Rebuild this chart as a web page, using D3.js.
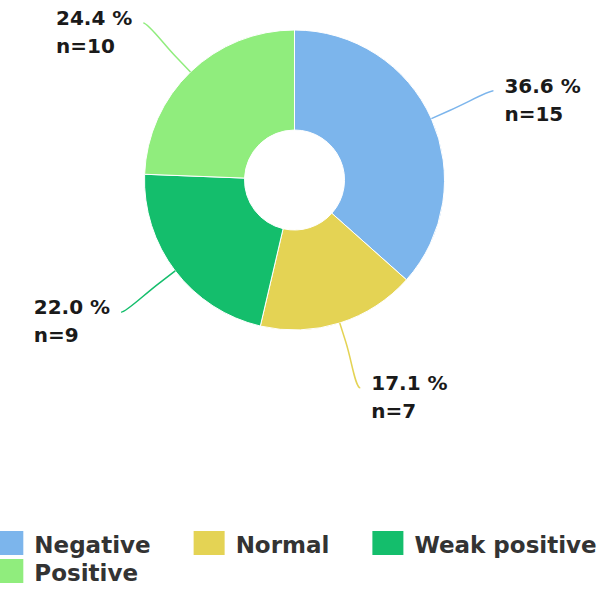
<!DOCTYPE html>
<html lang="en">
<head>
    <meta charset="UTF-8">
    <title>Donut</title>
    <script src="https://d3js.org/d3.v7.min.js"></script>
    <style>
        html, body { margin: 0; padding: 0; background: #fff; overflow: hidden; }
        text { font-family: "DejaVu Sans", sans-serif; font-weight: bold; }
    </style>
</head>
<body>
    <div id="chart"></div>
    <script>
        // data
        var categories = ["Negative", "Normal", "Weak positive", "Positive"];
        var counts = [15, 7, 9, 10];
        var colors = ["#7cb5ec", "#e4d354", "#14be6c", "#90ed7d"];

        var width = 616, height = 590;
        var cx = 294.5, cy = 180;
        var outerR = 150, innerR = 50;
        var total = d3.sum(counts);

        var svg = d3.select("#chart")
            .append("svg")
            .attr("width", width)
            .attr("height", height);

        var pie = d3.pie().sort(null).value(function (d) { return d; });
        var arcs = pie(counts);

        var arc = d3.arc().innerRadius(innerR).outerRadius(outerR);

        var g = svg.append("g").attr("transform", "translate(" + cx + "," + cy + ")");

        g.selectAll("path.slice")
            .data(arcs)
            .enter()
            .append("path")
            .attr("class", "slice")
            .attr("d", arc)
            .attr("fill", function (d, i) { return colors[i]; })
            .attr("stroke", "#fff")
            .attr("stroke-width", 1);

        // point at radius r along the slice's middle angle
        function polar(d, r) {
            var a = (d.startAngle + d.endAngle) / 2;
            return [r * Math.sin(a), -r * Math.cos(a)];
        }

        var fmt = d3.format(".1f");

        arcs.forEach(function (d, i) {
            var touch = polar(d, outerR);
            var brk = polar(d, outerR + 20);
            var end = polar(d, outerR + 68);
            var right = end[0] > 0;
            var c1 = [end[0] + (right ? -5 : 5), end[1]];
            var c2 = [2 * brk[0] - touch[0], 2 * brk[1] - touch[1]];

            g.append("path")
                .attr("d", "M" + end + "C" + c1 + " " + c2 + " " + brk + "L" + touch)
                .attr("fill", "none")
                .attr("stroke", colors[i])
                .attr("stroke-width", 1.5);

            var tx = end[0] + (right ? 11 : -11);
            var label = g.append("text")
                .attr("x", tx)
                .attr("y", end[1] + 2)
                .attr("text-anchor", right ? "start" : "end")
                .attr("font-size", 20)
                .attr("fill", "#1a1a1a");
            label.append("tspan")
                .attr("x", tx)
                .text(fmt(d.value / total * 100) + " %");
            label.append("tspan")
                .attr("x", tx)
                .attr("dy", 28)
                .attr("text-anchor", "start")
                .text("n=" + d.value);
        });

        // fix second line alignment for left labels (left-aligned block)
        g.selectAll("text").each(function () {
            var t = d3.select(this);
            if (t.attr("text-anchor") === "end") {
                var first = t.select("tspan").node();
                var w = first.getComputedTextLength();
                var x0 = +t.attr("x") - w;
                t.attr("text-anchor", "start");
                t.selectAll("tspan").attr("x", x0);
            }
        });

        // legend
        var rows = [[0, 1, 2], [3]];
        var boxW = 31, boxH = 24, boxGap = 11, itemGap = 43, rowH = 28;
        var legend = svg.append("g");

        var widths = categories.map(function (c) {
            var t = legend.append("text").attr("font-size", 23).text(c);
            var w = t.node().getComputedTextLength();
            t.remove();
            return w;
        });

        var row0 = rows[0].reduce(function (s, i) { return s + boxW + boxGap + widths[i]; }, 0)
            + itemGap * (rows[0].length - 1);
        var left = cx - row0 / 2;

        rows.forEach(function (row, r) {
            var x = left;
            var y = 531 + r * rowH;
            row.forEach(function (i) {
                legend.append("rect")
                    .attr("x", x)
                    .attr("y", y)
                    .attr("width", boxW)
                    .attr("height", boxH)
                    .attr("fill", colors[i]);
                legend.append("text")
                    .attr("x", x + boxW + boxGap)
                    .attr("y", y + 22)
                    .attr("font-size", 23)
                    .attr("fill", "#333")
                    .text(categories[i]);
                x += boxW + boxGap + widths[i] + itemGap;
            });
        });
    </script>
</body>
</html>
